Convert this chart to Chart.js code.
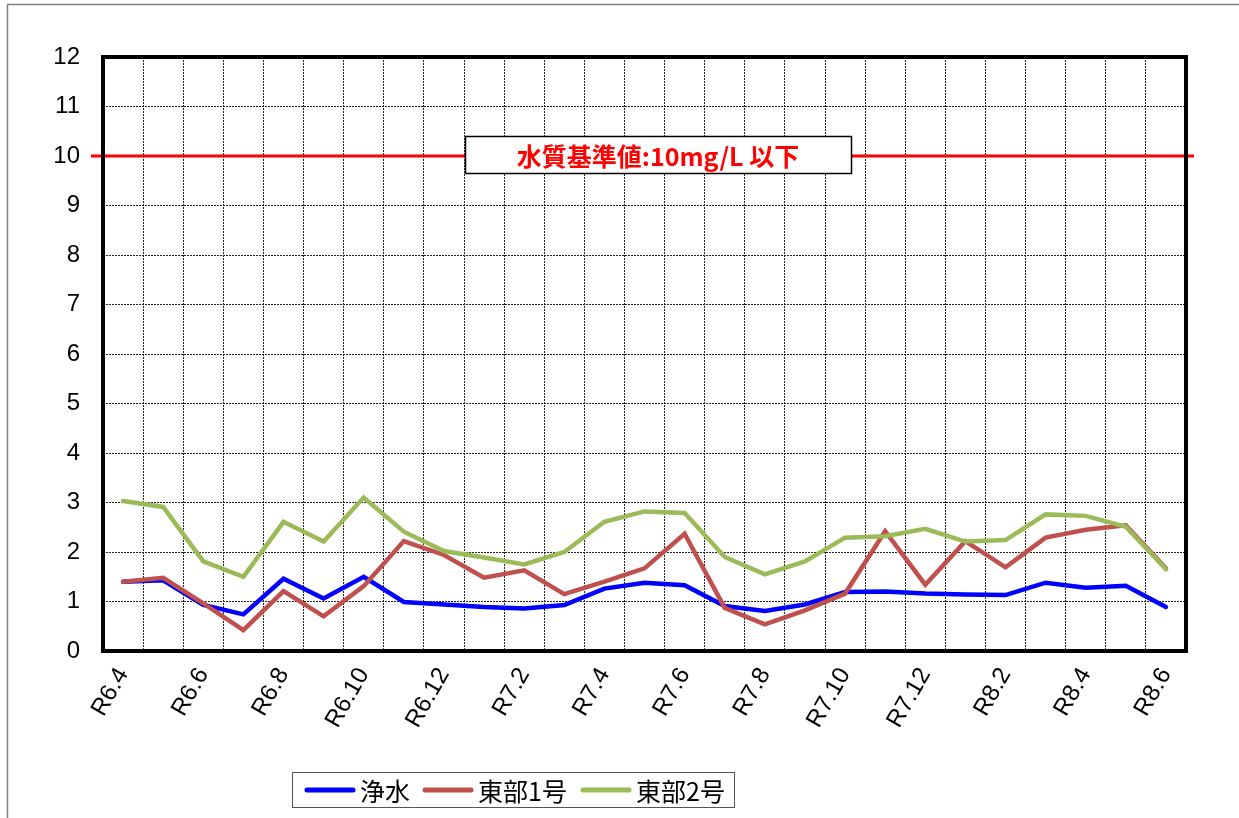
<!DOCTYPE html>
<html>
<head>
<meta charset="utf-8">
<script src="https://cdn.jsdelivr.net/npm/chart.js@4"></script>
<style>
  html, body { margin: 0; padding: 0; background: #fff; }
  #wrap { width: 1239px; height: 818px; position: relative; }
</style>
</head>
<body>
<div id="wrap"><canvas id="linechart" width="1239" height="818"></canvas></div>
<script>
const months = ['R6.4','R6.5','R6.6','R6.7','R6.8','R6.9','R6.10','R6.11','R6.12',
  'R7.1','R7.2','R7.3','R7.4','R7.5','R7.6','R7.7','R7.8','R7.9','R7.10','R7.11','R7.12',
  'R8.1','R8.2','R8.3','R8.4','R8.5','R8.6'];
const josui = [1.40,1.43,0.93,0.74,1.46,1.06,1.50,0.99,0.94,0.89,0.86,0.93,1.26,1.38,1.33,0.91,0.81,0.94,1.19,1.20,1.16,1.14,1.13,1.38,1.28,1.32,0.89];
const tobu1 = [1.40,1.48,0.96,0.42,1.21,0.70,1.31,2.22,1.94,1.48,1.63,1.15,1.40,1.67,2.37,0.87,0.54,0.82,1.16,2.42,1.34,2.22,1.69,2.29,2.45,2.54,1.67];
const tobu2 = [3.03,2.91,1.81,1.50,2.61,2.21,3.10,2.41,2.02,1.89,1.75,2.00,2.61,2.82,2.79,1.90,1.55,1.81,2.29,2.32,2.47,2.21,2.24,2.76,2.73,2.51,1.65];
const yTicks = [0,1,2,3,4,5,6,7,8,9,10,11,12];
const limitValue = 10;
const limitText = '水質基準値:10mg/L 以下';

const fontNum = '"Liberation Sans", Arial, sans-serif';
const fontJp = '"Noto Sans CJK JP", sans-serif';

// outer frame, limit line + label, plot border, legend
const decor = {
  id: 'decor',
  beforeDraw(chart) {
    const c = chart.ctx;
    c.save();
    c.fillStyle = '#fff';
    c.fillRect(0, 0, chart.width, chart.height);
    c.strokeStyle = '#7f7f7f';
    c.lineWidth = 1.5;
    c.strokeRect(7.5, 4.5, 1400, 1000);
    c.restore();
  },
  afterDatasetsDraw(chart) {
    const c = chart.ctx;
    const a = chart.chartArea;
    const y = chart.scales.y.getPixelForValue(limitValue);
    c.save();
    c.strokeStyle = '#ff0000';
    c.lineWidth = 3;
    c.beginPath();
    c.moveTo(a.left - 12, y);
    c.lineTo(a.right + 8, y);
    c.stroke();
    // label box
    c.fillStyle = '#fff';
    c.fillRect(465, 136, 387, 38);
    c.strokeStyle = '#000';
    c.lineWidth = 1.5;
    c.strokeRect(465.5, 136.5, 386, 37);
    c.fillStyle = '#ff0000';
    c.font = 'bold 25px ' + fontJp;
    c.textAlign = 'center';
    c.textBaseline = 'middle';
    c.fillText(limitText, 658, 156);
    c.restore();
  },
  afterDraw(chart) {
    const c = chart.ctx;
    const a = chart.chartArea;
    c.save();
    c.strokeStyle = '#000';
    c.lineWidth = 4;
    c.strokeRect(a.left, a.top, a.right - a.left, a.bottom - a.top);
    // legend
    c.lineWidth = 1;
    c.strokeStyle = '#555';
    c.fillStyle = '#fff';
    c.fillRect(292, 772, 443, 36);
    c.strokeRect(292.5, 772.5, 442, 35);
    const items = [[305, 360], [423, 478], [581, 636]];
    chart.data.datasets.forEach((ds, i) => {
      const [lx, tx] = items[i];
      c.strokeStyle = ds.borderColor;
      c.lineWidth = 5;
      c.lineCap = 'round';
      c.beginPath();
      c.moveTo(lx + 2, 790);
      c.lineTo(lx + 48, 790);
      c.stroke();
      c.fillStyle = '#000';
      c.font = '25px ' + fontJp;
      c.textAlign = 'left';
      c.textBaseline = 'middle';
      c.fillText(ds.label, tx, 791);
    });
    c.restore();
  }
};

const ctx = document.getElementById('linechart');

new Chart(ctx, {
  type: 'line',
  data: {
    labels: months,
    datasets: [
      { label: '浄水', data: josui, borderColor: '#0000ff', order: 2 },
      { label: '東部1号', data: tobu1, borderColor: '#c0504d', order: 1 },
      { label: '東部2号', data: tobu2, borderColor: '#9bbb59', order: 0 }
    ]
  },
  options: {
    responsive: false,
    animation: false,
    devicePixelRatio: 1,
    layout: { padding: { top: 57, right: 53, left: 0, bottom: 0 } },
    elements: {
      line: { borderWidth: 4.5, tension: 0, borderCapStyle: 'round', borderJoinStyle: 'miter' },
      point: { radius: 0 }
    },
    scales: {
      x: {
        offset: true,
        afterFit: (s) => { s.height = 167; },
        grid: { offset: true, color: '#222', lineWidth: 1, drawTicks: false },
        border: { display: false, dash: [2, 1] },
        ticks: {
          autoSkip: false,
          minRotation: 60,
          maxRotation: 60,
          padding: 12,
          color: '#000',
          font: { family: fontNum, size: 24 },
          callback: (v, i) => (i % 2 === 0 ? months[i] : '')
        }
      },
      y: {
        min: 0,
        max: 12,
        afterFit: (s) => { s.width = 103; },
        afterBuildTicks: (s) => { s.ticks = yTicks.map(v => ({ value: v })); },
        grid: { color: '#222', lineWidth: 1, drawTicks: false },
        border: { display: false, dash: [2, 1] },
        ticks: {
          padding: 23,
          color: '#000',
          font: { family: fontNum, size: 24 }
        }
      }
    },
    plugins: {
      legend: { display: false },
      tooltip: { enabled: false }
    }
  },
  plugins: [decor]
});
</script>
</body>
</html>
